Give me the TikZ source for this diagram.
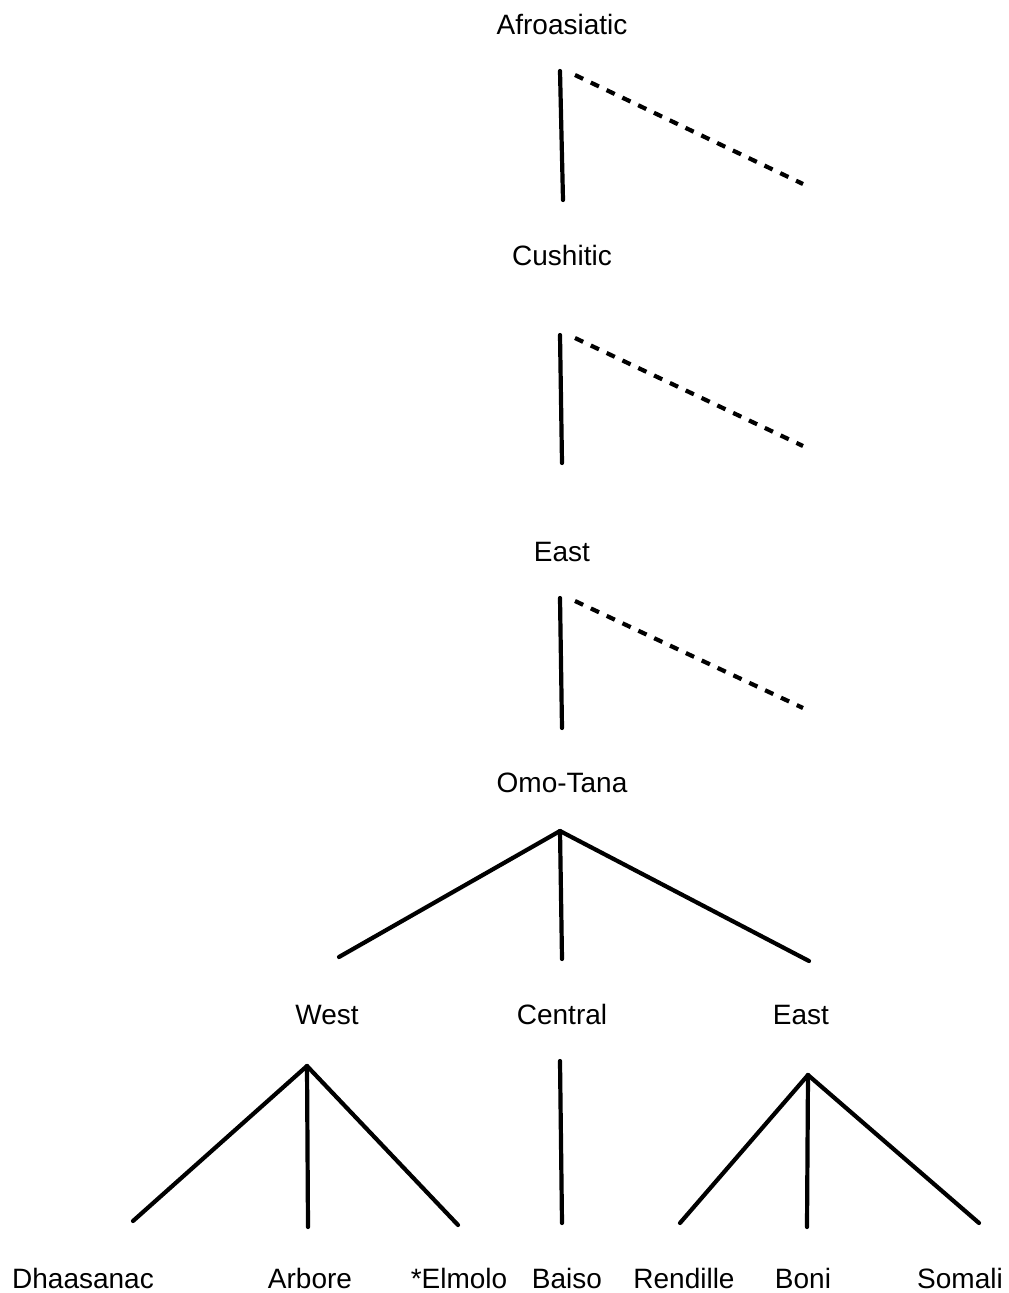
\documentclass[tikz,border=0pt]{standalone}
\usepackage{fontspec}
\setmainfont{Liberation Sans}
\begin{document}
\begin{tikzpicture}[x=1pt,y=-1pt,
  lbl/.style={font=\fontsize{28}{31}\selectfont, inner sep=0pt, text height=20pt, text depth=0pt, anchor=center},
  edge/.style={line width=4.2pt, line cap=round},
  dashedge/.style={line width=4.2pt, dash pattern=on 9pt off 8.5pt}]
\useasboundingbox (0,0) rectangle (1009,1293);
% labels
\node[lbl] (afro) at (562,24) {Afroasiatic};
\node[lbl] (cush) at (562,255) {Cushitic};
\node[lbl] (east) at (562,551) {East};
\node[lbl] (omo) at (562,782) {Omo-Tana};
\node[lbl] (west) at (327,1014) {West};
\node[lbl] (central) at (562,1014) {Central};
\node[lbl] (eastb) at (801,1014) {East};
\node[lbl] (dha) at (83,1278) {Dhaasanac};
\node[lbl] (arb) at (310,1278) {Arbore};
\node[lbl] (elm) at (459,1278) {*Elmolo};
\node[lbl] (bai) at (567,1278) {Baiso};
\node[lbl] (ren) at (684,1278) {Rendille};
\node[lbl] (bon) at (803,1278) {Boni};
\node[lbl] (som) at (960,1278) {Somali};
% endpoints
\coordinate (a1) at (560,71);  \coordinate (a2) at (563,200);
\coordinate (a3) at (575,75);  \coordinate (a4) at (803,184);
\coordinate (c1) at (560,335); \coordinate (c2) at (562,463);
\coordinate (c3) at (575,338); \coordinate (c4) at (803,446);
\coordinate (e1) at (560,598); \coordinate (e2) at (562,728);
\coordinate (e3) at (575,601); \coordinate (e4) at (803,708);
\coordinate (o0) at (560,831);
\coordinate (oW) at (339,957); \coordinate (oC) at (562,959); \coordinate (oE) at (809,961);
\coordinate (w0) at (307,1066);
\coordinate (wD) at (133,1221); \coordinate (wA) at (308,1227); \coordinate (wE) at (458,1225);
\coordinate (m0) at (560,1061); \coordinate (mB) at (562,1223);
\coordinate (x0) at (808,1075);
\coordinate (xR) at (680,1223); \coordinate (xB) at (807,1227); \coordinate (xS) at (979,1223);
% connectors
\draw[edge] (a1) -- (a2);
\draw[dashedge] (a3) -- (a4);
\draw[edge] (c1) -- (c2);
\draw[dashedge] (c3) -- (c4);
\draw[edge] (e1) -- (e2);
\draw[dashedge] (e3) -- (e4);
\draw[edge] (o0) -- (oW);
\draw[edge] (o0) -- (oC);
\draw[edge] (o0) -- (oE);
\draw[edge] (w0) -- (wD);
\draw[edge] (w0) -- (wA);
\draw[edge] (w0) -- (wE);
\draw[edge] (m0) -- (mB);
\draw[edge] (x0) -- (xR);
\draw[edge] (x0) -- (xB);
\draw[edge] (x0) -- (xS);
\end{tikzpicture}
\end{document}
